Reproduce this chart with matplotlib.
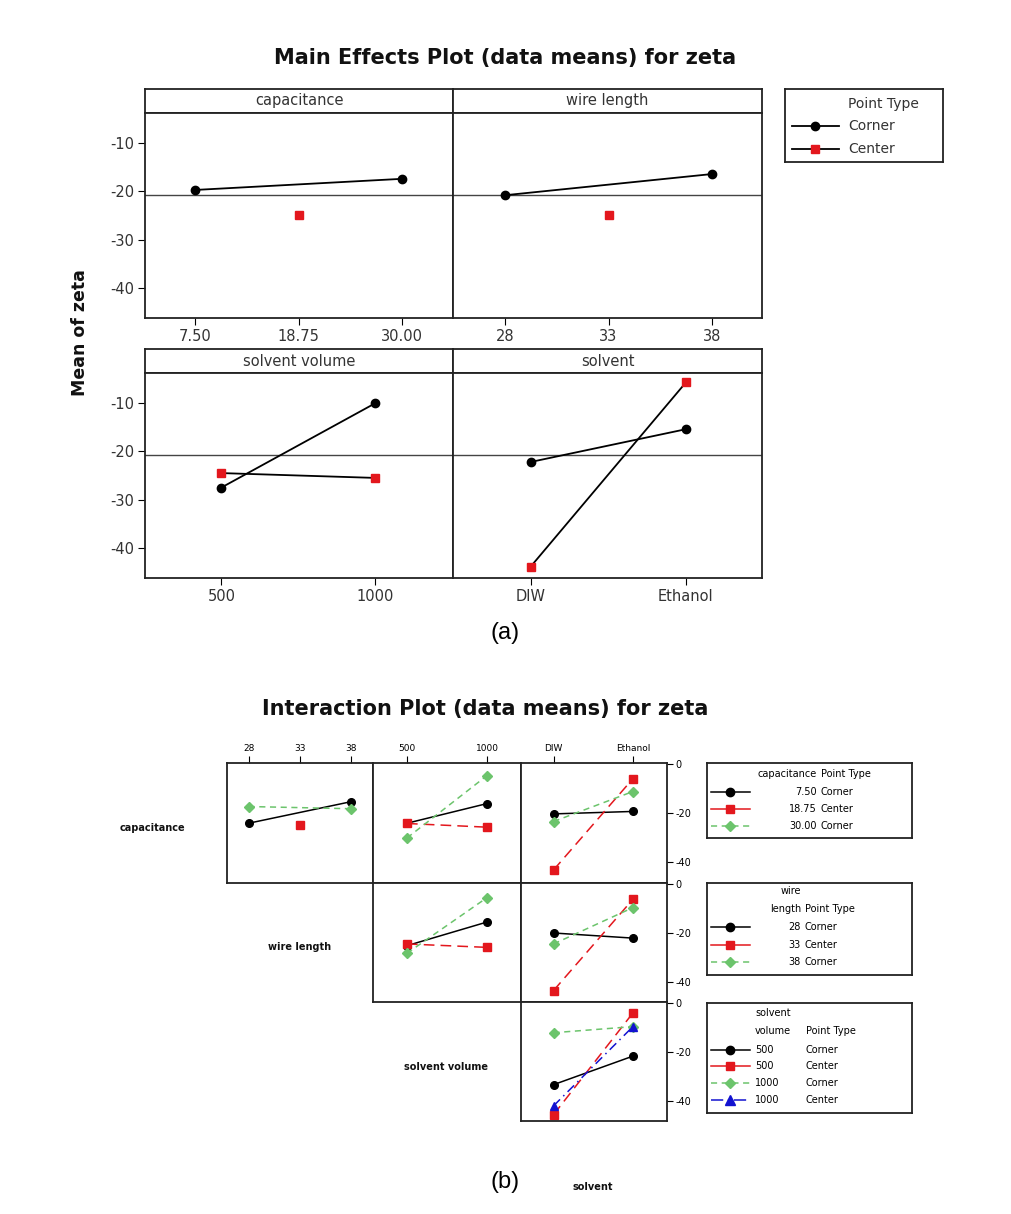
import matplotlib.pyplot as plt

W, H = 1012, 1214

# ---- main effects data ----
cap_levels = [7.50, 18.75, 30.00]
cap_labels = ["7.50", "18.75", "30.00"]
cap_corner = [-19.7, -17.4]
cap_center = [-24.8]

wire_levels = [28, 33, 38]
wire_labels = ["28", "33", "38"]
wire_corner = [-20.8, -16.4]
wire_center = [-24.8]

vol_levels = [500, 1000]
vol_labels = ["500", "1000"]
vol_corner = [-27.5, -10.0]
vol_center = [-24.5, -25.5]

solv_levels = [0, 1]
solv_labels = ["DIW", "Ethanol"]
solv_corner = [-22.2, -15.4]
solv_center = [-43.9, -5.7]

grand_mean = -20.8

# ---- interaction data ----
cap750_wire = [-24.1, -15.3]
cap1875_wire = [-24.9]
cap3000_wire = [-17.3, -18.2]
cap750_vol = [-24.1, -16.1]
cap1875_vol = [-24.2, -25.7]
cap3000_vol = [-30.1, -4.7]
cap750_solv = [-20.3, -19.3]
cap1875_solv = [-43.1, -6.0]
cap3000_solv = [-23.4, -11.2]

wire28_vol = [-25.3, -15.6]
wire33_vol = [-24.6, -26.0]
wire38_vol = [-28.4, -5.6]
wire28_solv = [-20.1, -22.2]
wire33_solv = [-43.7, -6.3]
wire38_solv = [-24.6, -9.7]

vol500c_solv = [-33.5, -21.8]
vol500m_solv = [-45.8, -4.1]
vol1000c_solv = [-12.2, -9.7]
vol1000m_solv = [-42.2, -9.7]

RED = '#e3171d'
GREEN = '#6cc46c'
BLUE = '#1212d0'
styles = {
    'k': dict(color='black', ls='-', marker='o', ms=5.5),
    'r': dict(color=RED, ls=(0, (7, 4)), marker='s', ms=5.5),
    'g': dict(color=GREEN, ls=(0, (4, 3)), marker='D', ms=5),
    'b': dict(color=BLUE, ls=(0, (6, 3, 1, 3)), marker='^', ms=6),
}
legend_ls = {'k': '-', 'r': '-', 'g': (0, (4, 3)), 'b': (0, (8, 3, 1, 3))}

fig = plt.figure(figsize=(W / 100, H / 100), dpi=100)


def box(x0, y0, x1, y1):
    return fig.add_axes([x0 / W, 1 - y1 / H, (x1 - x0) / W, (y1 - y0) / H])


def ftext(x, y, s, **kw):
    fig.text(x / W, 1 - y / H, s, **kw)


def frame(ax, lw=1.3):
    for sp in ax.spines.values():
        sp.set_linewidth(lw)
        sp.set_color('#222222')


# ================= (a) main effects =================
def main_panel(x0, x1, y0, name, xc, yc, xm, ym, xlim, ticks, labels, left):
    strip = box(x0, y0, x1, y0 + 24)
    strip.set_xticks([])
    strip.set_yticks([])
    frame(strip)
    strip.text(0.5, 0.5, name, ha='center', va='center', fontsize=10.5,
               color='#333333', transform=strip.transAxes)
    ax = box(x0, y0 + 24, x1, y0 + 229)
    frame(ax)
    ax.axhline(grand_mean, color='#444444', lw=1)
    ax.plot(xc, yc, color='black', lw=1.3, marker='o', ms=6)
    ax.plot(xm, ym, color='black', lw=1.3, marker='s', ms=5.5,
            mfc=RED, mec=RED)
    ax.set_xlim(*xlim)
    ax.set_ylim(-46.25, -3.75)
    ax.set_xticks(ticks, labels)
    ax.tick_params(axis='x', direction='out', length=5, labelsize=10.5,
                   labelcolor='#333333', pad=3)
    if left:
        ax.set_yticks([-10, -20, -30, -40], ['-10', '-20', '-30', '-40'])
        ax.tick_params(axis='y', direction='out', length=5, labelsize=10.5,
                       labelcolor='#333333', pad=3)
    else:
        ax.set_yticks([])
    return ax


main_panel(145, 453, 89, "capacitance", [7.5, 30.0], cap_corner,
           [18.75], cap_center, (2.0, 35.6), cap_levels, cap_labels, True)
main_panel(453, 762, 89, "wire length", [28, 38], wire_corner,
           [33], wire_center, (25.5, 40.4), wire_levels, wire_labels, False)
main_panel(145, 453, 349, "solvent volume", vol_levels, vol_corner,
           vol_levels, vol_center, (252, 1252), vol_levels, vol_labels, True)
main_panel(453, 762, 349, "solvent", solv_levels, solv_corner,
           solv_levels, solv_center, (-0.5, 1.49), solv_levels, solv_labels,
           False)

ftext(505, 58, "Main Effects Plot (data means) for zeta", ha='center',
      va='center', fontsize=15, fontweight='bold', color='#111111')
ftext(80, 333, "Mean of zeta", ha='center', va='center', rotation=90,
      fontsize=12.5, fontweight='bold', color='#111111')

# legend (a)
lg = box(785, 89, 943, 162)
lg.set_xlim(785, 943)
lg.set_ylim(162, 89)
lg.set_xticks([])
lg.set_yticks([])
frame(lg)
lg.text(848, 104, "Point Type", fontsize=10, va='center', color='#333333')
lg.plot([792, 839], [126, 126], color='black', lw=1.3)
lg.plot([815], [126], color='black', marker='o', ms=6)
lg.text(848, 126, "Corner", fontsize=10, va='center', color='#333333')
lg.plot([792, 839], [149, 149], color='black', lw=1.3)
lg.plot([815], [149], marker='s', ms=5.5, mfc=RED, mec=RED)
lg.text(848, 149, "Center", fontsize=10, va='center', color='#333333')

ftext(505, 633, "(a)", ha='center', va='center', fontsize=17,
      family='Liberation Sans')

# ================= (b) interaction =================
cols = [(227, 373), (373, 521), (521, 667)]
rows = [(763, 883), (883, 1002), (1002, 1121)]
col_lims = [(25.9, 40.1), (288, 1212), (-0.41, 1.43)]
col_ticks = [wire_levels, vol_levels, solv_levels]
col_labels = [wire_labels, vol_labels, solv_labels]


def inter_panel(r, c, series):
    x0, x1 = cols[c]
    y0, y1 = rows[r]
    ax = box(x0, y0, x1, y1)
    frame(ax)
    for xs, ys, st in series:
        s = styles[st]
        ax.plot(xs, ys, color=s['color'], ls=s['ls'], lw=1.1,
                marker=s['marker'], ms=s['ms'], mfc=s['color'],
                mec=s['color'])
    ax.set_xlim(*col_lims[c])
    ax.set_ylim(-48.4, 0.4)
    if r == 0:
        ax.xaxis.tick_top()
        ax.set_xticks(col_ticks[c], col_labels[c])
        ax.tick_params(axis='x', direction='out', length=5, labelsize=6.5,
                       pad=2)
    else:
        ax.set_xticks([])
    if c == 2:
        ax.yaxis.tick_right()
        ax.set_yticks([0, -20, -40], ['0', '-20', '-40'])
        ax.tick_params(axis='y', direction='out', length=4, labelsize=7,
                       pad=2)
    else:
        ax.set_yticks([])
    return ax


inter_panel(0, 0, [([28, 38], cap750_wire, 'k'), ([33], cap1875_wire, 'r'),
                   ([28, 38], cap3000_wire, 'g')])
inter_panel(0, 1, [(vol_levels, cap750_vol, 'k'),
                   (vol_levels, cap1875_vol, 'r'),
                   (vol_levels, cap3000_vol, 'g')])
inter_panel(0, 2, [(solv_levels, cap750_solv, 'k'),
                   (solv_levels, cap1875_solv, 'r'),
                   (solv_levels, cap3000_solv, 'g')])
inter_panel(1, 1, [(vol_levels, wire28_vol, 'k'),
                   (vol_levels, wire33_vol, 'r'),
                   (vol_levels, wire38_vol, 'g')])
inter_panel(1, 2, [(solv_levels, wire28_solv, 'k'),
                   (solv_levels, wire33_solv, 'r'),
                   (solv_levels, wire38_solv, 'g')])
inter_panel(2, 2, [(solv_levels, vol500c_solv, 'k'),
                   (solv_levels, vol500m_solv, 'r'),
                   (solv_levels, vol1000c_solv, 'g'),
                   (solv_levels, vol1000m_solv, 'b')])

ftext(485, 709, "Interaction Plot (data means) for zeta", ha='center',
      va='center', fontsize=15, fontweight='bold', color='#111111')
for name, x, y in [("capacitance", 152, 828), ("wire length", 300, 947),
                   ("solvent volume", 446, 1067), ("solvent", 593, 1187)]:
    ftext(x, y, name, ha='center', va='center', fontsize=7,
          fontweight='bold', color='#111111')


def small_legend(y0, y1, header, entries, num_x, num_ha, type_x):
    lg = box(707, y0, 912, y1)
    lg.set_xlim(707, 912)
    lg.set_ylim(y1, y0)
    lg.set_xticks([])
    lg.set_yticks([])
    frame(lg)
    for txt, yy in header:
        a, b = txt
        lg.text(num_x, yy, a, fontsize=7, va='center', ha=num_ha)
        lg.text(type_x, yy, b, fontsize=7, va='center', ha='left')
    for (lev, kind, st), yy in entries:
        s = styles[st]
        lg.plot([711, 750], [yy, yy], color=s['color'], ls=legend_ls[st],
                lw=1.1)
        lg.plot([730], [yy], marker=s['marker'], ms=s['ms'] + 0.5,
                color=s['color'])
        lg.text(num_x, yy, lev, fontsize=7, va='center', ha=num_ha)
        lg.text(type_x, yy, kind, fontsize=7, va='center', ha='left')


small_legend(763, 838, [(("capacitance", "Point Type"), 774)],
             [(("7.50", "Corner", 'k'), 792), (("18.75", "Center", 'r'), 809),
              (("30.00", "Corner", 'g'), 826)], 817, 'right', 821)
small_legend(883, 975, [(("wire", ""), 891), (("length", "Point Type"), 909)],
             [(("28", "Corner", 'k'), 927), (("33", "Center", 'r'), 945),
              (("38", "Corner", 'g'), 962)], 801, 'right', 805)
small_legend(1003, 1113, [(("solvent", ""), 1013),
                          (("volume", "Point Type"), 1031)],
             [(("500", "Corner", 'k'), 1050), (("500", "Center", 'r'), 1066),
              (("1000", "Corner", 'g'), 1083), (("1000", "Center", 'b'), 1100)],
             755, 'left', 806)

ftext(505, 1182, "(b)", ha='center', va='center', fontsize=17,
      family='Liberation Sans')

fig.savefig("out.png", dpi=100, facecolor='white')
